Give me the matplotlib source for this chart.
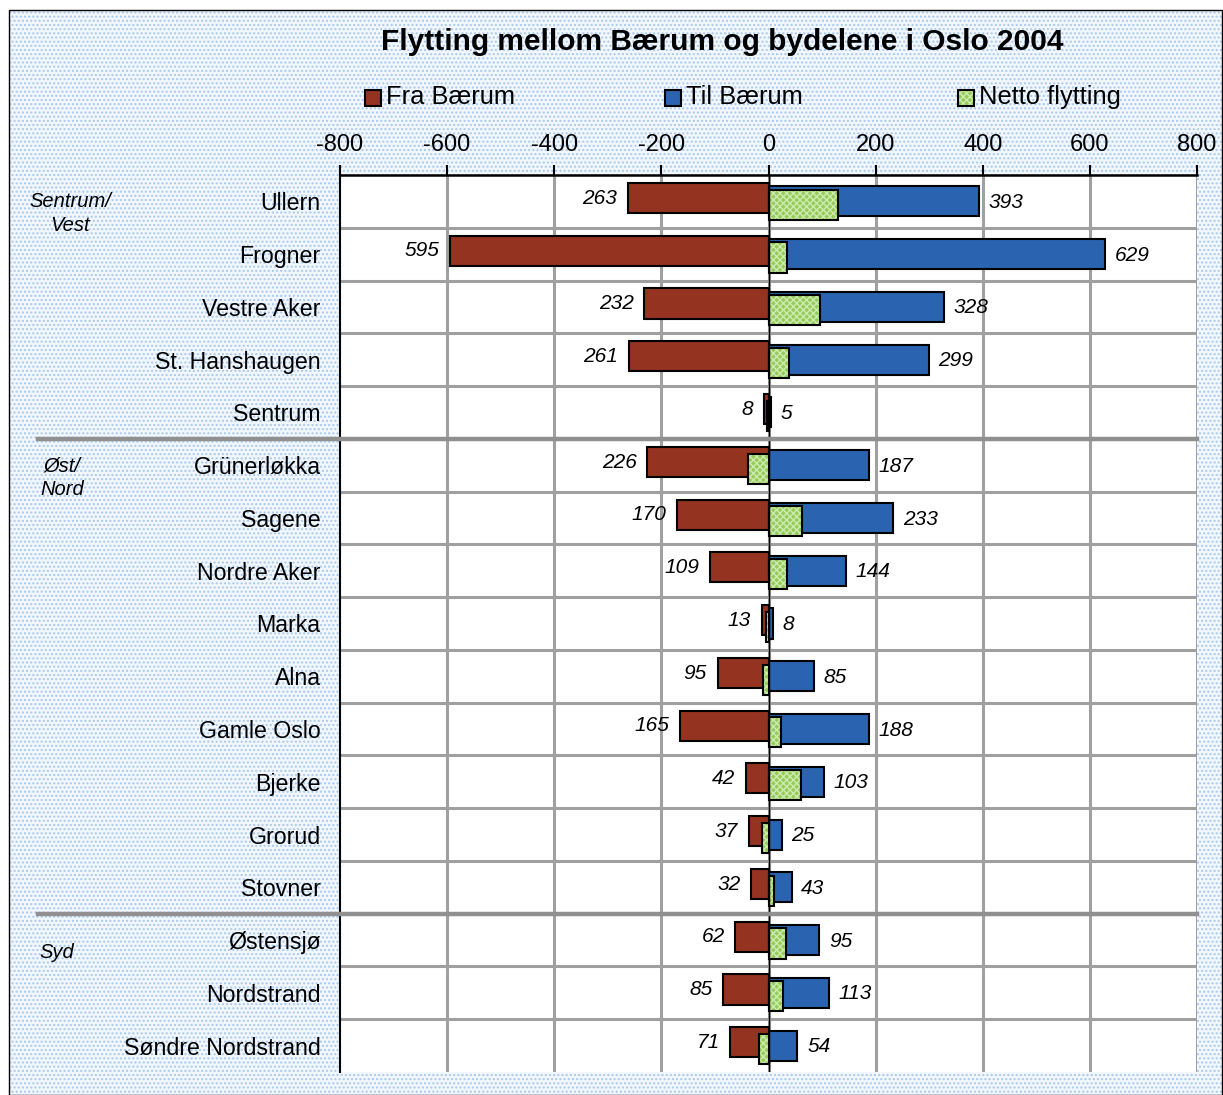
import matplotlib.pyplot as plt
from matplotlib.patches import Rectangle
from matplotlib.lines import Line2D
import numpy as np

plt.rcParams['font.family'] = ['Liberation Sans', 'DejaVu Sans']

# flytting mellom Bærum og bydelene, 2004
bydeler = ['Ullern', 'Frogner', 'Vestre Aker', 'St. Hanshaugen', 'Sentrum',
           'Grünerløkka', 'Sagene', 'Nordre Aker', 'Marka', 'Alna', 'Gamle Oslo',
           'Bjerke', 'Grorud', 'Stovner', 'Østensjø', 'Nordstrand', 'Søndre Nordstrand']
fra_baerum = [263, 595, 232, 261, 8, 226, 170, 109, 13, 95, 165, 42, 37, 32, 62, 85, 71]
til_baerum = [393, 629, 328, 299, 5, 187, 233, 144, 8, 85, 188, 103, 25, 43, 95, 113, 54]
grupper = ['Sentrum/\nVest', 'Øst/\nNord', 'Syd']
gruppe_start = [0, 5, 14]
ticks = [-800, -600, -400, -200, 0, 200, 400, 600, 800]

fra = np.array(fra_baerum)
til = np.array(til_baerum)
netto = til - fra
y = np.arange(len(bydeler))

RED = '#943420'
BLUE = '#2a64b0'
GREEN = '#94cc58'
GREEN_HATCH = '#cfeab0'

fig = plt.figure(figsize=(12.23, 10.95), dpi=100)

# dotted light blue background inside a thin frame
bg = Rectangle((9 / 1223, 0.0), 1213 / 1223, 1 - 10 / 1095, transform=fig.transFigure,
               facecolor='#f2f7fd', edgecolor='#a9c9ec', hatch='....', lw=0, zorder=-10)
fig.patches.append(bg)
frame = Rectangle((9 / 1223, 0.0), 1213 / 1223, 1 - 10 / 1095, transform=fig.transFigure,
                  facecolor='none', edgecolor='black', lw=1, zorder=-9)
fig.patches.append(frame)

ax = fig.add_axes([340 / 1223, 1 - 1072 / 1095, 857 / 1223, 897 / 1095])
ax.set_facecolor('white')

h = 0.57
ax.barh(y - 0.064, -fra, height=h, color=RED, edgecolor='black', lw=1.5, zorder=3)
ax.barh(y, til, height=h, color=BLUE, edgecolor='black', lw=1.5, zorder=3)
# netto: hatched fill first, black outline on top
ax.barh(y + 0.064, netto, height=h, color=GREEN, edgecolor=GREEN_HATCH, hatch='xxxxx',
        lw=0, zorder=4)
ax.barh(y + 0.064, netto, height=h, fill=False, edgecolor='black', lw=1.5, zorder=5)

for i in range(len(bydeler)):
    ax.text(-fra[i] - 20, y[i] - 0.06, str(fra[i]), ha='right', va='center',
            fontsize=15, style='italic', zorder=6)
    ax.text(til[i] + 18, y[i] + 0.02, str(til[i]), ha='left', va='center',
            fontsize=15, style='italic', zorder=6)

ax.set_xlim(-800, 800)
ax.set_ylim(len(bydeler) - 0.5, -0.5)
ax.set_xticks(ticks)
ax.set_xticklabels([str(t) for t in ticks])
ax.xaxis.tick_top()
ax.tick_params(axis='x', labelsize=17, length=7, width=1.5, pad=7, color='black')
ax.set_yticks(y)
ax.set_yticklabels(bydeler, fontsize=16.7)
ax.tick_params(axis='y', length=0, pad=14)

# grid: vertical at ticks, horizontal between categories
for t in ticks[1:]:
    ax.axvline(t, color='#a0a0a0', lw=2.2, zorder=1)
for b in np.arange(0.5, len(bydeler) - 1, 1.0):
    ax.axhline(b, color='#a0a0a0', lw=2.2, zorder=1)
ax.axvline(0, color='black', lw=1, zorder=5.5)

for s in ['bottom', 'right']:
    ax.spines[s].set_visible(False)
ax.spines['top'].set_linewidth(1.8)
ax.spines['left'].set_linewidth(1.5)

# group separators reach out into the label area
for g in gruppe_start[1:]:
    yy = ax.transData.transform((0, g - 0.5))[1] / fig.bbox.height
    fig.add_artist(Line2D([38 / 1223, 1197 / 1223], [yy, yy], transform=fig.transFigure,
                          color='#909090', lw=3.2, zorder=2))

label_x = [70, 62, 57]
for txt, g, lx in zip(grupper, gruppe_start, label_x):
    yy = ax.transData.transform((0, g + 0.23))[1] / fig.bbox.height
    fig.text(lx / 1223, yy, txt, ha='center', va='center', fontsize=14.5,
             style='italic', linespacing=1.3)

fig.text(722 / 1223, 1 - 42 / 1095, 'Flytting mellom Bærum og bydelene i Oslo 2004',
         ha='center', va='center', fontsize=21.5, fontweight='bold')

# legend row
legend = [('Fra Bærum', RED, 365), ('Til Bærum', BLUE, 665), ('Netto flytting', GREEN, 958)]
for name, col, lx in legend:
    box = (lx / 1223, 1 - 106 / 1095)
    w, hh = 16 / 1223, 16 / 1095
    if col == GREEN:
        fig.patches.append(Rectangle(box, w, hh, transform=fig.transFigure, facecolor=col,
                                     edgecolor=GREEN_HATCH, hatch='xxxxx', lw=0))
        fig.patches.append(Rectangle(box, w, hh, transform=fig.transFigure, fill=False,
                                     edgecolor='black', lw=1.5))
    else:
        fig.patches.append(Rectangle(box, w, hh, transform=fig.transFigure, facecolor=col,
                                     edgecolor='black', lw=1.5))
    fig.text((lx + 21) / 1223, 1 - 97 / 1095, name, ha='left', va='center', fontsize=18.4)

fig.savefig('out.png', dpi=100)
